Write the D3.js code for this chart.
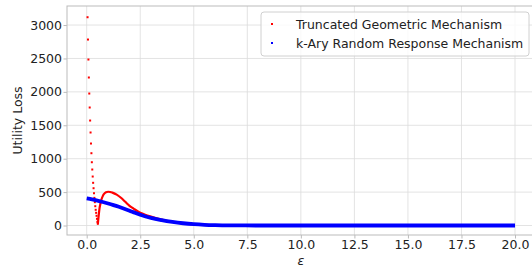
<!DOCTYPE html>
<html>
<head>
<meta charset="utf-8">
<script src="https://cdn.jsdelivr.net/npm/d3@7"></script>
<style>
  body { margin: 0; background: #fff; }
  svg { font-family: "DejaVu Sans", sans-serif; }
</style>
</head>
<body>
<svg id="chart" width="532" height="268"></svg>
<script>
// truncated geometric: steep descent for small epsilon (discrete dots)
const tgDropEps = [0.04, 0.06, 0.08, 0.10, 0.12, 0.14, 0.16, 0.18, 0.20, 0.22, 0.24, 0.26, 0.28,
    0.30, 0.32, 0.34, 0.36, 0.38, 0.40, 0.42, 0.44, 0.46, 0.48, 0.50, 0.52];
const tgDropVal = [3117, 2783, 2484, 2215, 1975, 1766, 1571, 1392, 1227, 1082, 947, 838, 733,
    639, 558, 483, 414, 349, 289, 235, 190, 145, 100, 55, 25];
// truncated geometric: rest of the curve
const tgEps = [0.52, 0.54, 0.57, 0.60, 0.65, 0.70, 0.75, 0.80, 0.85, 0.90, 1.0, 1.1, 1.2, 1.4, 1.6,
    1.8, 2.0, 2.2, 2.5, 2.7, 3.0, 3.5, 4.0, 4.5, 5.0, 5.5, 6.0, 7.0, 8.0, 10, 15, 20];
const tgVal = [25, 90, 180, 260, 340, 400, 440, 468, 487, 498, 505, 502, 492, 462, 415,
    355, 295, 250, 190, 165, 133, 88, 55, 32, 18, 10, 5, 2, 0, 0, 0, 0];
// k-ary random response
const krrEps = [0.0, 0.25, 0.5, 0.75, 1.0, 1.25, 1.5, 1.75, 2.0, 2.25, 2.5, 2.75, 3.0, 3.5, 4.0,
    4.5, 5.0, 5.5, 6.0, 7.0, 8.0, 10, 15, 20];
const krrVal = [405, 390, 372, 352, 330, 306, 280, 252, 222, 190, 160, 135, 113, 80, 54,
    34, 20, 11, 6, 2, 0, 0, 0, 0];

const xTicks = [0, 2.5, 5, 7.5, 10, 12.5, 15, 17.5, 20];
const yTicks = [0, 500, 1000, 1500, 2000, 2500, 3000];
const seriesNames = ['Truncated Geometric Mechanism', 'k-Ary Random Response Mechanism'];
const seriesColors = ['#ff0000', '#0000ff'];

const svg = d3.select('#chart');
const mLeft = 67, mRight = 536, mTop = 6, mBottom = 235;
const fs = 12.5;

const x = d3.scaleLinear().domain([-0.92, 20.98]).range([mLeft, mRight]);
const y = d3.scaleLinear().domain([-142, 3285]).range([mBottom, mTop]);

// grid
const grid = svg.append('g');
grid.selectAll('.gx').data(xTicks).join('line')
    .attr('x1', d => x(d)).attr('x2', d => x(d))
    .attr('y1', mTop).attr('y2', mBottom)
    .attr('stroke', '#dcdcdc').attr('stroke-width', 0.8);
grid.selectAll('.gy').data(yTicks).join('line')
    .attr('x1', mLeft).attr('x2', mRight)
    .attr('y1', d => y(d)).attr('y2', d => y(d))
    .attr('stroke', '#dcdcdc').attr('stroke-width', 0.8);

// axes
const xAxis = svg.append('g')
    .attr('transform', `translate(0,${mBottom})`)
    .call(d3.axisBottom(x).tickValues(xTicks).tickFormat(d3.format('.1f')).tickSizeOuter(0).tickSize(3.5).tickPadding(1.5));
const yAxis = svg.append('g')
    .attr('transform', `translate(${mLeft},0)`)
    .call(d3.axisLeft(y).tickValues(yTicks).tickFormat(d3.format('d')).tickSizeOuter(0).tickSize(3.5).tickPadding(1.5));
[xAxis, yAxis].forEach(a => {
    a.select('.domain').remove();
    a.selectAll('line').attr('stroke', '#bbb');
    a.selectAll('text').attr('font-size', fs).attr('fill', '#222')
        .attr('font-family', '"DejaVu Sans", sans-serif');
});

// spines
svg.append('rect')
    .attr('x', mLeft).attr('y', mTop)
    .attr('width', mRight - mLeft).attr('height', mBottom - mTop)
    .attr('fill', 'none').attr('stroke', '#bbb').attr('stroke-width', 1);

// data
const line = d3.line()
    .x(d => x(d[0]))
    .y(d => y(d[1]))
    .curve(d3.curveMonotoneX);

const tgRest = tgEps.map((e, i) => [e, tgVal[i]]);
const krr = krrEps.map((e, i) => [e, krrVal[i]]);

svg.append('path')
    .attr('d', line(tgRest))
    .attr('fill', 'none')
    .attr('stroke', seriesColors[0])
    .attr('stroke-width', 2.2);

svg.append('g')
    .selectAll('rect')
    .data(tgDropEps.map((e, i) => [e, tgDropVal[i]]))
    .join('rect')
    .attr('x', d => x(d[0]) - 1)
    .attr('y', d => y(d[1]) - 1)
    .attr('width', 2).attr('height', 2)
    .attr('fill', seriesColors[0]);

svg.append('path')
    .attr('d', line(krr))
    .attr('fill', 'none')
    .attr('stroke', seriesColors[1])
    .attr('stroke-width', 3.8);

// legend
const lg = svg.append('g').attr('transform', 'translate(261,12)');
lg.append('rect')
    .attr('width', 268).attr('height', 44)
    .attr('rx', 3)
    .attr('fill', 'white').attr('fill-opacity', 0.8)
    .attr('stroke', '#d0d0d0');
seriesNames.forEach((name, i) => {
    lg.append('rect')
        .attr('x', 10).attr('y', 11 + i * 19)
        .attr('width', 2).attr('height', 2)
        .attr('fill', seriesColors[i]);
    lg.append('text')
        .attr('x', 35).attr('y', 16.5 + i * 19)
        .attr('font-size', fs).attr('fill', '#222')
        .text(name);
});

// labels
svg.append('text')
    .attr('transform', `translate(22,${(mTop + mBottom) / 2}) rotate(-90)`)
    .attr('text-anchor', 'middle')
    .attr('font-size', fs).attr('fill', '#222')
    .text('Utility Loss');
svg.append('text')
    .attr('x', x(10)).attr('y', 265)
    .attr('text-anchor', 'middle')
    .attr('font-size', fs).attr('font-style', 'italic').attr('fill', '#222')
    .text('ε');
</script>
</body>
</html>
